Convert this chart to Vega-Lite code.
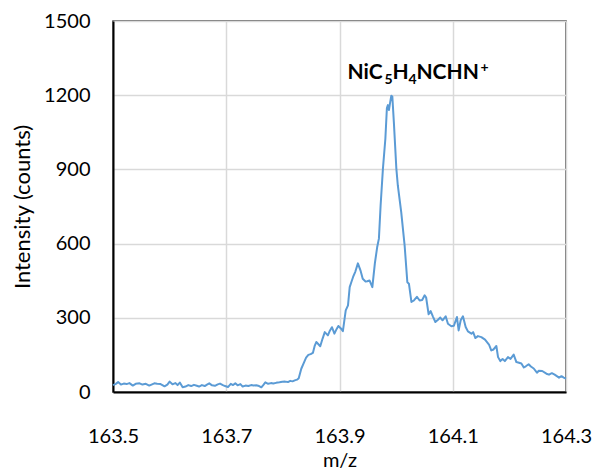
{
  "$schema": "https://vega.github.io/schema/vega-lite/v6.json",
  "width": 453,
  "height": 371,
  "autosize": "none",
  "padding": {"left": 113, "top": 21, "right": 32, "bottom": 81},
  "config": {
    "font": "Lato",
    "view": {"stroke": "#404040", "strokeWidth": 1.5},
    "axis": {
      "labelFont": "Lato",
      "titleFont": "Lato",
      "labelFontSize": 20,
      "titleFontSize": 20,
      "labelColor": "#000000",
      "titleColor": "#000000",
      "titleFontWeight": "normal",
      "ticks": false,
      "gridColor": "#d9d9d9",
      "gridWidth": 1.5,
      "domainColor": "#000000",
      "domainWidth": 2
    },
    "text": {"font": "Lato", "fontWeight": "bold", "color": "#000000", "align": "left", "baseline": "alphabetic"}
  },
  "datasets": {
    "ionLabel": [{"mz": 163.914, "intensity": 1267}]
  },
  "data": {
    "values": [
      {"mz": 163.500, "intensity": 28}, {"mz": 163.505, "intensity": 33}, {"mz": 163.509, "intensity": 40},
      {"mz": 163.514, "intensity": 30}, {"mz": 163.519, "intensity": 34}, {"mz": 163.524, "intensity": 32},
      {"mz": 163.529, "intensity": 36}, {"mz": 163.535, "intensity": 26}, {"mz": 163.540, "intensity": 33},
      {"mz": 163.547, "intensity": 35}, {"mz": 163.552, "intensity": 30}, {"mz": 163.558, "intensity": 33},
      {"mz": 163.564, "intensity": 26}, {"mz": 163.569, "intensity": 31}, {"mz": 163.573, "intensity": 35},
      {"mz": 163.578, "intensity": 33}, {"mz": 163.584, "intensity": 32}, {"mz": 163.588, "intensity": 27},
      {"mz": 163.591, "intensity": 23}, {"mz": 163.596, "intensity": 30}, {"mz": 163.600, "intensity": 42},
      {"mz": 163.605, "intensity": 31}, {"mz": 163.610, "intensity": 36}, {"mz": 163.614, "intensity": 28},
      {"mz": 163.618, "intensity": 38}, {"mz": 163.623, "intensity": 19}, {"mz": 163.628, "intensity": 22},
      {"mz": 163.633, "intensity": 28}, {"mz": 163.638, "intensity": 24}, {"mz": 163.643, "intensity": 29},
      {"mz": 163.648, "intensity": 25}, {"mz": 163.652, "intensity": 22}, {"mz": 163.657, "intensity": 28},
      {"mz": 163.662, "intensity": 24}, {"mz": 163.666, "intensity": 30}, {"mz": 163.670, "intensity": 35},
      {"mz": 163.675, "intensity": 27}, {"mz": 163.680, "intensity": 25}, {"mz": 163.685, "intensity": 31},
      {"mz": 163.689, "intensity": 34}, {"mz": 163.694, "intensity": 28}, {"mz": 163.698, "intensity": 24},
      {"mz": 163.703, "intensity": 20}, {"mz": 163.708, "intensity": 33}, {"mz": 163.712, "intensity": 28},
      {"mz": 163.716, "intensity": 35}, {"mz": 163.720, "intensity": 27}, {"mz": 163.725, "intensity": 32},
      {"mz": 163.729, "intensity": 22}, {"mz": 163.734, "intensity": 26}, {"mz": 163.739, "intensity": 24},
      {"mz": 163.744, "intensity": 28}, {"mz": 163.748, "intensity": 26}, {"mz": 163.753, "intensity": 27},
      {"mz": 163.758, "intensity": 24}, {"mz": 163.762, "intensity": 19}, {"mz": 163.766, "intensity": 30},
      {"mz": 163.769, "intensity": 39}, {"mz": 163.774, "intensity": 33}, {"mz": 163.779, "intensity": 36},
      {"mz": 163.783, "intensity": 34}, {"mz": 163.788, "intensity": 37}, {"mz": 163.794, "intensity": 39},
      {"mz": 163.799, "intensity": 41}, {"mz": 163.804, "intensity": 42}, {"mz": 163.809, "intensity": 40},
      {"mz": 163.813, "intensity": 45}, {"mz": 163.817, "intensity": 43}, {"mz": 163.821, "intensity": 47},
      {"mz": 163.825, "intensity": 50}, {"mz": 163.828, "intensity": 56}, {"mz": 163.8325, "intensity": 94},
      {"mz": 163.837, "intensity": 118}, {"mz": 163.841, "intensity": 139}, {"mz": 163.845, "intensity": 150},
      {"mz": 163.849, "intensity": 153}, {"mz": 163.853, "intensity": 158}, {"mz": 163.856, "intensity": 185},
      {"mz": 163.859, "intensity": 202}, {"mz": 163.862, "intensity": 195}, {"mz": 163.866, "intensity": 185},
      {"mz": 163.870, "intensity": 215}, {"mz": 163.874, "intensity": 242}, {"mz": 163.877, "intensity": 235},
      {"mz": 163.8795, "intensity": 229}, {"mz": 163.883, "intensity": 248}, {"mz": 163.8866, "intensity": 262},
      {"mz": 163.889, "intensity": 248}, {"mz": 163.891, "intensity": 236}, {"mz": 163.895, "intensity": 255},
      {"mz": 163.898, "intensity": 267}, {"mz": 163.902, "intensity": 258}, {"mz": 163.906, "intensity": 246},
      {"mz": 163.911, "intensity": 330}, {"mz": 163.915, "intensity": 350}, {"mz": 163.918, "intensity": 424},
      {"mz": 163.921, "intensity": 445}, {"mz": 163.924, "intensity": 465}, {"mz": 163.928, "intensity": 487},
      {"mz": 163.9325, "intensity": 520}, {"mz": 163.937, "intensity": 492}, {"mz": 163.941, "intensity": 458},
      {"mz": 163.946, "intensity": 447}, {"mz": 163.949, "intensity": 448}, {"mz": 163.953, "intensity": 451},
      {"mz": 163.958, "intensity": 424}, {"mz": 163.9625, "intensity": 521}, {"mz": 163.9665, "intensity": 585},
      {"mz": 163.9696, "intensity": 620}, {"mz": 163.9726, "intensity": 754}, {"mz": 163.9767, "intensity": 903},
      {"mz": 163.981, "intensity": 1024}, {"mz": 163.9837, "intensity": 1148}, {"mz": 163.9855, "intensity": 1160},
      {"mz": 163.9873, "intensity": 1140}, {"mz": 163.989, "intensity": 1165}, {"mz": 163.9915, "intensity": 1198},
      {"mz": 163.9933, "intensity": 1195}, {"mz": 163.996, "intensity": 1091}, {"mz": 164.0004, "intensity": 903},
      {"mz": 164.003, "intensity": 835}, {"mz": 164.009, "intensity": 727}, {"mz": 164.015, "intensity": 593},
      {"mz": 164.0198, "intensity": 444}, {"mz": 164.0226, "intensity": 438}, {"mz": 164.027, "intensity": 364},
      {"mz": 164.0314, "intensity": 370}, {"mz": 164.0367, "intensity": 385}, {"mz": 164.0415, "intensity": 370},
      {"mz": 164.046, "intensity": 372}, {"mz": 164.0504, "intensity": 391}, {"mz": 164.053, "intensity": 382},
      {"mz": 164.0574, "intensity": 314}, {"mz": 164.061, "intensity": 327}, {"mz": 164.065, "intensity": 305},
      {"mz": 164.0693, "intensity": 283}, {"mz": 164.074, "intensity": 292}, {"mz": 164.078, "intensity": 301},
      {"mz": 164.082, "intensity": 290}, {"mz": 164.0875, "intensity": 306}, {"mz": 164.0915, "intensity": 276},
      {"mz": 164.0975, "intensity": 266}, {"mz": 164.102, "intensity": 268}, {"mz": 164.1074, "intensity": 303},
      {"mz": 164.1104, "intensity": 249}, {"mz": 164.114, "intensity": 290}, {"mz": 164.118, "intensity": 306},
      {"mz": 164.1228, "intensity": 263}, {"mz": 164.1268, "intensity": 245}, {"mz": 164.133, "intensity": 236},
      {"mz": 164.136, "intensity": 242}, {"mz": 164.140, "intensity": 218}, {"mz": 164.1445, "intensity": 226},
      {"mz": 164.1505, "intensity": 222}, {"mz": 164.157, "intensity": 212}, {"mz": 164.164, "intensity": 192},
      {"mz": 164.168, "intensity": 168}, {"mz": 164.172, "intensity": 172}, {"mz": 164.177, "intensity": 186},
      {"mz": 164.180, "intensity": 141}, {"mz": 164.184, "intensity": 125}, {"mz": 164.188, "intensity": 133},
      {"mz": 164.192, "intensity": 125}, {"mz": 164.1975, "intensity": 141}, {"mz": 164.202, "intensity": 134},
      {"mz": 164.2076, "intensity": 151}, {"mz": 164.2124, "intensity": 121}, {"mz": 164.217, "intensity": 118},
      {"mz": 164.2212, "intensity": 115}, {"mz": 164.2255, "intensity": 99}, {"mz": 164.229, "intensity": 104},
      {"mz": 164.234, "intensity": 112}, {"mz": 164.238, "intensity": 103}, {"mz": 164.243, "intensity": 95},
      {"mz": 164.2487, "intensity": 78}, {"mz": 164.252, "intensity": 86}, {"mz": 164.258, "intensity": 85},
      {"mz": 164.2654, "intensity": 74}, {"mz": 164.270, "intensity": 70}, {"mz": 164.275, "intensity": 76},
      {"mz": 164.280, "intensity": 70}, {"mz": 164.2877, "intensity": 58}, {"mz": 164.292, "intensity": 64},
      {"mz": 164.296, "intensity": 58}, {"mz": 164.300, "intensity": 54}
    ]
  },
  "encoding": {
    "x": {
      "field": "mz",
      "type": "quantitative",
      "title": "m/z",
      "scale": {"domain": [163.5, 164.3], "nice": false, "zero": false},
      "axis": {
        "values": [163.5, 163.7, 163.9, 164.1, 164.3],
        "format": ".1f",
        "labelPadding": 34,
        "titleY": 58,
        "titleBaseline": "top",
        "labelOverlap": false,
        "labelFlush": false
      }
    },
    "y": {
      "field": "intensity",
      "type": "quantitative",
      "title": "Intensity (counts)",
      "scale": {"domain": [0, 1500], "nice": false},
      "axis": {
        "values": [0, 300, 600, 900, 1200, 1500],
        "format": "d",
        "labelPadding": 23,
        "titleFontSize": 22,
        "titleX": -91,
        "titleY": 185.5,
        "titleAngle": -90,
        "titleAlign": "center",
        "titleBaseline": "middle"
      }
    }
  },
  "layer": [
    {
      "mark": {"type": "line", "color": "#5B9BD5", "strokeWidth": 2, "strokeJoin": "round"}
    },
    {
      "data": {"name": "ionLabel"},
      "mark": {"type": "text", "text": "NiC", "fontSize": 21}
    },
    {
      "data": {"name": "ionLabel"},
      "mark": {"type": "text", "text": "5", "fontSize": 14, "dx": 37, "dy": 5}
    },
    {
      "data": {"name": "ionLabel"},
      "mark": {"type": "text", "text": "H", "fontSize": 21, "dx": 45}
    },
    {
      "data": {"name": "ionLabel"},
      "mark": {"type": "text", "text": "4", "fontSize": 14, "dx": 61, "dy": 5}
    },
    {
      "data": {"name": "ionLabel"},
      "mark": {"type": "text", "text": "NCHN", "fontSize": 21, "dx": 69}
    },
    {
      "data": {"name": "ionLabel"},
      "mark": {"type": "text", "text": "+", "fontSize": 14, "dx": 133, "dy": -7}
    }
  ]
}
